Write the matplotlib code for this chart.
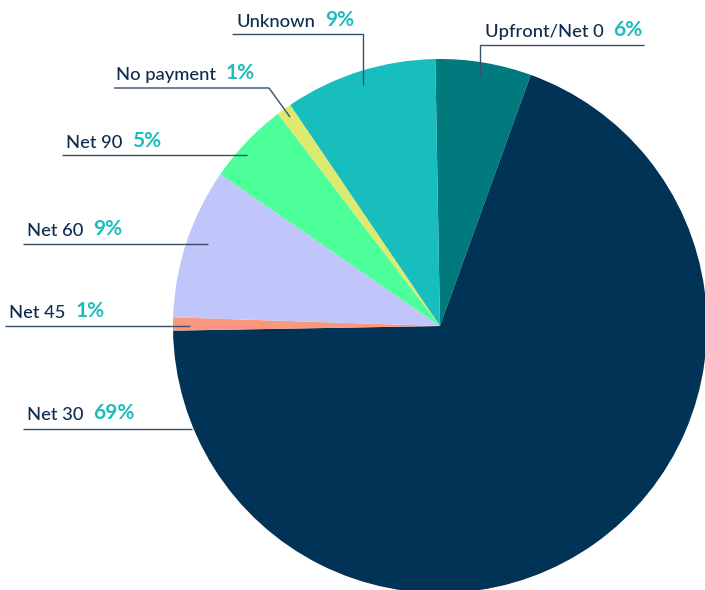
import matplotlib
matplotlib.use("Agg")
import matplotlib.pyplot as plt

# ---- data ----
categories = ["Upfront/Net 0", "Net 30", "Net 45", "Net 60", "Net 90", "No payment", "Unknown"]
values = [5.8, 69.2, 0.8, 9.1, 5.0, 0.9, 9.2]
pct_labels = ["6%", "69%", "1%", "9%", "5%", "1%", "9%"]
colors = ["#007A7C", "#003356", "#F9977F", "#C0C6FA", "#4CFF99", "#DDEA6E", "#18BDBE"]

# ---- layout (pixel coords, y from top) ----
W, H = 705, 590
CX, CY, R = 440, 326, 267
# label text start x, baseline y, leader polyline points
label_layout = {
    "Upfront/Net 0": (485, 37, [(644, 45), (480, 45), (480, 75)]),
    "Net 30": (27, 420, [(23, 429), (192, 429)]),
    "Net 45": (9, 318, [(5, 326), (190, 326)]),
    "Net 60": (27, 236, [(23, 244), (208, 244)]),
    "Net 90": (66, 148, [(62, 155), (247, 155)]),
    "No payment": (116, 80, [(114, 88), (269, 88), (290, 117)]),
    "Unknown": (237, 27, [(232, 34), (363, 34), (363, 85)]),
}

plt.rcParams['font.family'] = ['Lato', 'DejaVu Sans']
fig = plt.figure(figsize=(W / 100, H / 100), dpi=100)
ax = fig.add_axes([0, 0, 1, 1])

def fy(y):
    return H - y

ax.pie(values, colors=colors, startangle=91, counterclock=False,
       center=(CX, fy(CY)), radius=R, frame=True,
       wedgeprops=dict(linewidth=0, antialiased=True))
ax.set_xlim(0, W)
ax.set_ylim(0, H)
ax.axis('off')

text_color = "#0E2D4E"
pct_color = "#1DBDBD"
line_color = "#34506B"

for cat, pct in zip(categories, pct_labels):
    tx, ty, pts = label_layout[cat]
    xs = [p[0] for p in pts]
    ys = [fy(p[1]) for p in pts]
    ax.plot(xs, ys, color=line_color, lw=1.0, solid_capstyle='butt', zorder=5)
    t = ax.text(tx, fy(ty), cat, color=text_color, fontsize=13.2, fontweight='medium',
                ha='left', va='baseline', zorder=6)
    ax.annotate(pct, xy=(1, 0), xycoords=t, xytext=(7, 0), textcoords='offset points',
                color=pct_color, fontsize=15, fontweight='bold', ha='left', va='bottom', zorder=6)

fig.savefig("out.png", dpi=100)
